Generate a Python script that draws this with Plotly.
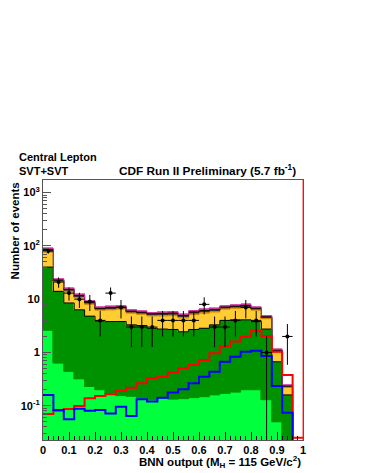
import numpy as np
import plotly.graph_objects as go

# 25 bins of width 0.04 on the BNN output
edges = np.round(np.linspace(0, 1, 26), 2)
centers = (edges[:-1] + edges[1:]) / 2
width = 0.04

# stacked backgrounds (events per bin), bottom to top
light_green = [2.6, 0.63, 0.44, 0.32, 0.23, 0.20, 0.17, 0.155, 0.15, 0.14, 0.13, 0.14, 0.133,
               0.136, 0.142, 0.148, 0.16, 0.17, 0.18, 0.20, 0.20, 0.13, 0.05, 0.01, 0]
dark_green = [37.4, 13.4, 8.06, 6.0, 4.57, 3.7, 3.63, 3.65, 3.15, 3.06, 2.72, 2.61, 2.57,
              2.31, 2.56, 2.7, 3.14, 3.83, 3.92, 3.9, 3.6, 2.62, 0.62, 0.15, 0]
yellow = [36, 7.2, 5.4, 4.3, 3.2, 2.3, 2.5, 2.7, 2.15, 2.0, 2.0, 2.1, 2.2,
          2.0, 2.45, 2.6, 2.45, 2.5, 2.65, 2.8, 2.4, 1.55, 0.35, 0.06, 0]
orange = [5, 1.0, 0.75, 0.6, 0.45, 0.32, 0.35, 0.37, 0.3, 0.28, 0.27, 0.3, 0.32,
          0.27, 0.34, 0.37, 0.34, 0.35, 0.37, 0.4, 0.33, 0.22, 0.05, 0.01, 0]
maroon = [4, 0.8, 0.6, 0.5, 0.4, 0.26, 0.3, 0.3, 0.25, 0.24, 0.22, 0.25, 0.26,
          0.22, 0.27, 0.3, 0.27, 0.3, 0.3, 0.3, 0.26, 0.17, 0.04, 0.007, 0]
magenta = [5, 1.0, 0.75, 0.6, 0.45, 0.32, 0.35, 0.33, 0.3, 0.28, 0.26, 0.3, 0.32,
           0.26, 0.34, 0.38, 0.34, 0.35, 0.38, 0.4, 0.31, 0.21, 0.04, 0.008, 0]

# signal-like outlines
red_line = [0.070, 0.081, 0.087, 0.099, 0.138, 0.153, 0.164, 0.19, 0.218, 0.264, 0.328, 0.35, 0.418,
            0.505, 0.58, 0.72, 0.965, 1.29, 1.6, 1.98, 2.56, 2.04, 1.03, 0.38, 0.025]
blue_line = [0.16, 0.083, 0.056, 0.088, 0.081, 0.083, 0.072, 0.096, 0.064, 0.132, 0.12, 0.142, 0.177,
             0.204, 0.264, 0.35, 0.436, 0.67, 0.83, 1.03, 1.08, 0.86, 0.235, 0.074, 0]

# observed data
data_counts = [80, 21, 13, 10, 9, 4, 13, 7, 3, 3, 3, 4, 4,
               4, 4, 8, 3, 3, 4, 7, 4, 1, 0, 2, 0]

y_ticks = [0.1, 1, 10, 100, 1000]
y_ticktext = ["10<sup>-1</sup>", "1", "10", "10<sup>2</sup>", "10<sup>3</sup>"]
x_ticks = [0, 0.1, 0.2, 0.3, 0.4, 0.5, 0.6, 0.7, 0.8, 0.9, 1]
x_ticktext = ["0", "0.1", "0.2", "0.3", "0.4", "0.5", "0.6", "0.7", "0.8", "0.9", "1"]

layers = [
    ("light", light_green, "#00ff3c", "#009900"),
    ("dark green", dark_green, "#009100", "#000000"),
    ("yellow", yellow, "#ffcc33", "#cc8800"),
    ("orange", orange, "#ff9900", "#333333"),
    ("maroon", maroon, "#5a1030", "#000000"),
    ("magenta", magenta, "#cc3399", "#cc3399"),
]

FONT = "Liberation Sans"


def step_xy(vals):
    v = np.maximum(np.asarray(vals, dtype=float), 1e-4)
    return list(edges), list(v) + [v[-1]]


fig = go.Figure()

cum = np.zeros(len(centers))
tops = []
for name, vals, fill, _ in layers:
    fig.add_bar(x=centers, y=vals, width=width, name=name,
                marker=dict(color=fill, line=dict(width=0.6, color=fill)), showlegend=False)
    cum = cum + np.asarray(vals, dtype=float)
    tops.append(cum.copy())

# outlines of each stacked boundary
for (name, _, _, lc), top in zip(layers, tops):
    sx, sy = step_xy(top)
    fig.add_scatter(x=sx, y=sy, mode="lines", line=dict(color=lc, width=1, shape="hv"),
                    showlegend=False, hoverinfo="skip")

for vals, col in [(red_line, "#ff0000"), (blue_line, "#0000ff")]:
    sx, sy = step_xy(vals)
    fig.add_scatter(x=sx, y=sy, mode="lines", line=dict(color=col, width=2, shape="hv"),
                    showlegend=False, hoverinfo="skip")

counts = np.asarray(data_counts, dtype=float)
mask = counts > 0
err = np.sqrt(counts[mask])
fig.add_scatter(
    x=centers[mask], y=counts[mask], mode="markers",
    marker=dict(color="black", size=4),
    error_y=dict(type="data", array=err, arrayminus=err, color="black", thickness=1, width=0),
    error_x=dict(type="constant", value=width / 2, color="black", thickness=1, width=0),
    showlegend=False,
)

# red outline reaching the right frame
fig.add_shape(type="line", xref="x", yref="paper", x0=1, x1=1, y0=0, y1=1,
              line=dict(color="#ff3030", width=1))

# page body adds an 8px offset at top/left, so the figure is drawn 8px smaller
fig.update_layout(
    width=357, height=465,
    margin=dict(l=35, r=62, t=172, b=33),
    paper_bgcolor="white", plot_bgcolor="white",
    barmode="stack", bargap=0,
    font=dict(family=FONT, size=11, color="black", weight="bold"),
    annotations=[
        dict(text="Central Lepton", xref="paper", yref="paper", x=-0.1, y=1.088,
             xanchor="left", yanchor="middle", showarrow=False, font=dict(size=11)),
        dict(text="SVT+SVT", xref="paper", yref="paper", x=-0.1, y=1.035,
             xanchor="left", yanchor="middle", showarrow=False, font=dict(size=11)),
        dict(text="CDF Run II Preliminary (5.7 fb<sup>-1</sup>)", xref="paper", yref="paper",
             x=0.98, y=1.038, xanchor="right", yanchor="middle", showarrow=False,
             font=dict(size=11.8)),
        dict(text="Number of events", xref="paper", yref="paper", x=-0.108, y=1.0,
             xanchor="center", yanchor="top", textangle=-90, showarrow=False,
             font=dict(size=11.5)),
        dict(text="BNN output (M<sub>H</sub> = 115 GeV/c<sup>2</sup>)", xref="paper", yref="paper",
             x=1.0, y=-0.085, xanchor="right", yanchor="middle", showarrow=False,
             font=dict(size=11.5)),
    ],
)

fig.update_xaxes(
    range=[0, 1], tickvals=x_ticks, ticktext=x_ticktext,
    ticks="inside", ticklen=8, tickcolor="black",
    minor=dict(ticks="inside", ticklen=4, dtick=0.02, tick0=0, tickcolor="black"),
    showline=True, linecolor="#555555", linewidth=1, mirror=True,
    showgrid=False, zeroline=False, tickfont=dict(size=11),
)
fig.update_yaxes(
    type="log", range=[-1.642, 3.236], tickvals=y_ticks, ticktext=y_ticktext,
    ticks="inside", ticklen=8, tickcolor="#555555",
    minor=dict(ticks="inside", ticklen=4, dtick="D1", tickcolor="#555555"),
    showline=True, linecolor="#555555", linewidth=1, mirror=True,
    showgrid=False, zeroline=False, tickfont=dict(size=11),
)

fig.write_html("out.html")
